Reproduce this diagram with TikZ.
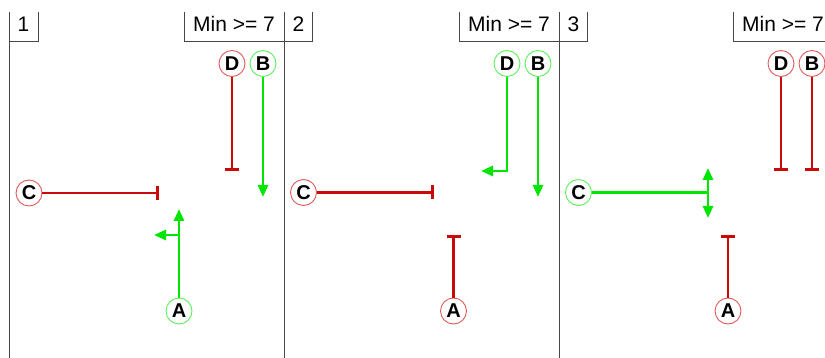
\documentclass[tikz,border=0pt]{standalone}
\usepackage{fontspec}
\setmainfont{Liberation Sans}
\usetikzlibrary{arrows.meta}
\definecolor{sred}{RGB}{200,10,10}
\definecolor{sgreen}{RGB}{0,230,0}
\definecolor{cred}{RGB}{225,90,90}
\definecolor{cgreen}{RGB}{90,240,90}
\definecolor{frame}{RGB}{70,70,70}
\tikzset{
  sig/.style={circle, draw, line width=0.9pt, minimum size=26pt, inner sep=0pt, fill=white,
    font=\fontsize{20}{20}\selectfont\bfseries},
  on/.style={sig, draw=cgreen},
  off/.style={sig, draw=cred},
  act/.style={draw=sgreen, line width=2.7pt, -{Triangle[length=12pt,width=10pt]}},
  inh/.style={draw=sred, line width=2.7pt, -{Bar[width=14pt,line width=2.7pt]}},
  panelline/.style={draw=frame, line width=0.9pt},
  tab/.style={draw=frame, line width=0.9pt},
  tabtext/.style={font=\fontsize{21}{21}\selectfont, inner sep=0pt}
}
\begin{document}
\begin{tikzpicture}[x=1pt,y=-1pt]
\useasboundingbox (0,0) rectangle (825,358);
% panel frames
\draw[panelline] (9,12) -- (9,358);
\draw[panelline] (284,12) -- (284,358);
\draw[panelline] (559,12) -- (559,358);
% tabs
\draw[tab] (38,12) -- (38,41) -- (9,41);
\node[tabtext] (n1) at (23.5,24) {1};
\draw[tab] (184,12) -- (184,41) -- (284,41);
\node[tabtext] (m1) at (234,24) {Min >= 7};
\draw[tab] (312,12) -- (312,41) -- (280,41);
\node[tabtext] (n2) at (298.5,24) {2};
\draw[tab] (459,12) -- (459,41) -- (559,41);
\node[tabtext] (m2) at (509,24) {Min >= 7};
\draw[tab] (587,12) -- (587,41) -- (555,41);
\node[tabtext] (n3) at (573.5,24) {3};
\draw[tab] (733,12) -- (733,41) -- (834,41);
\node[tabtext] (m3) at (783,24) {Min >= 7};

% ---------- panel 1
\node[off] (D1) at (232,63.5) {D};
\node[on]  (B1) at (263,63.5) {B};
\node[off] (C1) at (29,193) {C};
\node[on]  (A1) at (179,311) {A};
\coordinate (D1e) at (232,171);
\coordinate (B1e) at (263,197);
\coordinate (C1e) at (159,193);
\coordinate (A1e) at (179,209);
\coordinate (A1j) at (179,235);
\coordinate (A1l) at (154,235);
\draw[inh] (D1) -- (D1e);
\draw[act] (B1) -- (B1e);
\draw[inh] (C1) -- (C1e);
\draw[act] (A1) -- (A1e);
\draw[act] (A1j) -- (A1l);

% ---------- panel 2
\node[on]  (D2) at (507,63.5) {D};
\node[on]  (B2) at (538,63.5) {B};
\node[off] (C2) at (303.5,192.5) {C};
\node[off] (A2) at (453.5,311) {A};
\coordinate (D2e) at (481,171);
\coordinate (B2e) at (538,197);
\coordinate (C2e) at (434,192.5);
\coordinate (A2e) at (453.5,235);
\draw[act] (D2) |- (D2e);
\draw[act] (B2) -- (B2e);
\draw[inh] (C2) -- (C2e);
\draw[inh] (A2) -- (A2e);

% ---------- panel 3
\node[off] (D3) at (781,63.5) {D};
\node[off] (B3) at (812,63.5) {B};
\node[on]  (C3) at (578.5,192.5) {C};
\node[off] (A3) at (728,311) {A};
\coordinate (D3e) at (781,171);
\coordinate (B3e) at (812,171);
\coordinate (C3e) at (708,192.5);
\coordinate (C3u) at (708,168);
\coordinate (C3d) at (708,218);
\coordinate (A3e) at (728,235);
\draw[inh] (D3) -- (D3e);
\draw[inh] (B3) -- (B3e);
\draw[draw=sgreen, line width=2.7pt] (C3) -- (C3e);
\draw[act, {Triangle[length=12pt,width=10pt]}-{Triangle[length=12pt,width=10pt]}] (C3u) -- (C3d);
\draw[inh] (A3) -- (A3e);
\end{tikzpicture}
\end{document}
